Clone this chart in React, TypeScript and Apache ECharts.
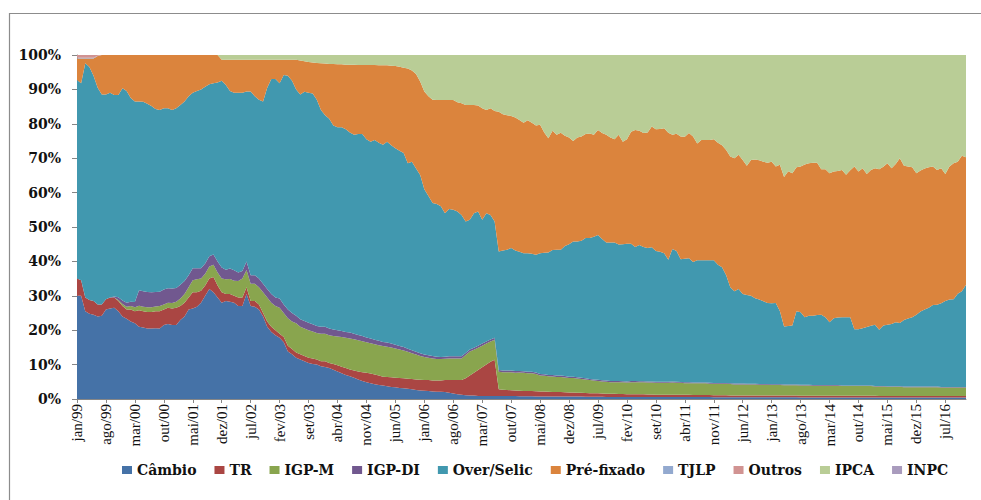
import React, { useEffect, useRef } from "react";
import * as echarts from "echarts";

const MONTHS = ["jan", "fev", "mar", "abr", "mai", "jun", "jul", "ago", "set", "out", "nov", "dez"];
const YEARS = ["99", "00", "01", "02", "03", "04", "05", "06", "07", "08", "09", "10", "11", "12", "13", "14", "15", "16"];

const SERIES_NAMES = ["Câmbio", "TR", "IGP-M", "IGP-DI", "Over/Selic", "Pré-fixado", "TJLP", "Outros", "IPCA", "INPC"];
const COLORS = ["#4572A7", "#AA4643", "#89A54E", "#71588F", "#4198AF", "#DB843D", "#93A9CF", "#D19392", "#B9CD96", "#A99BBD"];

const cambio = [
  30, 30, 25.5, 24.8, 24.5, 24, 24.2, 26, 26.3, 26.5,
  25.5, 24, 23.3, 22.5, 22, 21, 20.8, 20.5, 20.5, 20.6,
  20.5, 21.5, 21.8, 21.5, 21.5, 23, 24, 26, 26.3, 26.8,
  28, 30, 32, 31, 29.5, 28, 28.5, 28.3, 28, 27,
  27, 30.5, 27, 26.8, 26, 24, 21, 19.5, 18.5, 17.8,
  16.5, 13.8, 13, 12, 11.5, 11, 10.5, 10.2, 10, 9.5,
  9.3, 9, 8.5, 8, 7.5, 7, 6.6, 6.2, 5.7, 5.2,
  4.9, 4.6, 4.3, 4.1, 3.9, 3.7, 3.5, 3.4, 3.2, 3.1,
  3, 2.8, 2.6, 2.5, 2.4, 2.3, 2.2, 2.1, 2.1, 2,
  1.8, 1.6, 1.4, 1.2, 1.1, 1, 1, 0.9, 0.9, 0.9,
  0.9, 0.9, 0.9, 0.9, 0.9, 0.85, 0.85, 0.8, 0.8, 0.8,
  0.8, 0.75, 0.75, 0.75, 0.7, 0.7, 0.7, 0.7, 0.7, 0.7,
  0.7, 0.7, 0.7, 0.65, 0.65, 0.65, 0.65, 0.65, 0.6, 0.6,
  0.6, 0.6, 0.6, 0.6, 0.6, 0.6, 0.6, 0.6, 0.6, 0.6,
  0.55, 0.55, 0.55, 0.55, 0.55, 0.55, 0.55, 0.55, 0.55, 0.55,
  0.55, 0.55, 0.55, 0.55, 0.5, 0.5, 0.5, 0.5, 0.5, 0.5,
  0.5, 0.5, 0.5, 0.5, 0.5, 0.5, 0.5, 0.5, 0.5, 0.5,
  0.5, 0.5, 0.5, 0.5, 0.5, 0.45, 0.45, 0.45, 0.45, 0.45,
  0.45, 0.45, 0.45, 0.45, 0.45, 0.45, 0.45, 0.45, 0.45, 0.45,
  0.45, 0.45, 0.45, 0.45, 0.4, 0.4, 0.4, 0.4, 0.4, 0.4,
  0.4, 0.4, 0.4, 0.4, 0.4, 0.4, 0.4, 0.4, 0.4, 0.4,
  0.4, 0.4, 0.4, 0.4, 0.4, 0.4,
];

const tr = [
  5, 4.5, 4, 4, 4, 3.5, 3.3, 3, 3.2, 3,
  3, 3, 2.7, 3.5, 3.5, 4.8, 4.7, 4.8, 4.8, 4.9,
  5, 4.5, 4.7, 4.8, 5, 4, 4, 3.5, 4.7, 4.2,
  3.5, 3, 3, 4.5, 3.5, 3, 2, 2.2, 2, 2.5,
  2.5, 2, 1.5, 1.7, 1.5, 1, 1.5, 1.5, 1.5, 1.2,
  1.5, 1.7, 1.5, 1.5, 1.5, 1.5, 1.5, 1.6, 1.5, 1.5,
  1.7, 1.5, 1.7, 1.8, 1.9, 2, 2, 2.1, 2.3, 2.6,
  2.7, 2.8, 2.8, 2.7, 2.6, 2.7, 2.8, 2.8, 2.9, 2.9,
  2.9, 3, 3.1, 3.1, 3.1, 3.2, 3.2, 3.3, 3.3, 3.5,
  3.7, 3.9, 4.1, 4.3, 4.9, 5.8, 6.6, 7.5, 8.3, 9.1,
  9.9, 10.5, 1.9, 1.8, 1.7, 1.7, 1.6, 1.6, 1.5, 1.5,
  1.5, 1.5, 1.45, 1.4, 1.4, 1.35, 1.3, 1.3, 1.25, 1.2,
  1.2, 1.15, 1.1, 1.1, 1.05, 1, 1, 0.95, 0.95, 0.9,
  0.9, 0.85, 0.85, 0.8, 0.8, 0.8, 0.75, 0.75, 0.7, 0.7,
  0.7, 0.7, 0.7, 0.7, 0.65, 0.65, 0.65, 0.65, 0.65, 0.6,
  0.6, 0.6, 0.6, 0.6, 0.6, 0.6, 0.6, 0.6, 0.55, 0.55,
  0.55, 0.55, 0.55, 0.55, 0.55, 0.55, 0.55, 0.55, 0.5, 0.5,
  0.5, 0.5, 0.5, 0.5, 0.5, 0.5, 0.5, 0.5, 0.5, 0.5,
  0.5, 0.5, 0.5, 0.5, 0.5, 0.5, 0.5, 0.5, 0.5, 0.5,
  0.5, 0.5, 0.5, 0.5, 0.5, 0.5, 0.45, 0.45, 0.45, 0.45,
  0.45, 0.45, 0.45, 0.45, 0.45, 0.45, 0.45, 0.45, 0.45, 0.45,
  0.45, 0.45, 0.45, 0.45, 0.45, 0.45,
];

const igpm = [
  0, 0, 0, 0, 0, 0, 0, 0, 0, 0,
  0.3, 0.6, 0.8, 1, 1.2, 1.3, 1.3, 1.4, 1.4, 1.4,
  1.5, 1.5, 1.5, 1.6, 1.8, 2.2, 2.5, 3, 3.5, 3.8,
  3.5, 3.4, 3.5, 3.5, 3.8, 4, 4.3, 4.4, 4.4, 4.8,
  5.5, 5, 5, 5, 5, 6, 7, 7, 7, 7.5,
  7, 8, 8, 8.5, 8, 8, 8, 7.8, 7.7, 8,
  8, 8, 8.1, 8.4, 8.6, 8.8, 9, 9.1, 9.1, 9,
  8.9, 8.8, 8.8, 8.8, 8.9, 8.8, 8.7, 8.5, 8.3, 8.1,
  7.8, 7.5, 7.2, 6.9, 6.7, 6.5, 6.4, 6.2, 6.2, 6.2,
  6.3, 6.3, 6.3, 6.3, 6.8, 7, 6.7, 6.5, 6.3, 6.1,
  5.9, 5.8, 5.1, 5.1, 5.2, 5.2, 5.2, 5.3, 5.3, 5.2,
  5.2, 5.0, 4.6, 4.6, 4.5, 4.5, 4.4, 4.4, 4.3, 4.2,
  4.2, 4.1, 4.0, 3.9, 3.8, 3.7, 3.6, 3.5, 3.5, 3.4,
  3.4, 3.4, 3.4, 3.4, 3.5, 3.5, 3.5, 3.5, 3.5, 3.5,
  3.5, 3.5, 3.5, 3.5, 3.6, 3.5, 3.5, 3.4, 3.4, 3.4,
  3.4, 3.4, 3.4, 3.3, 3.3, 3.3, 3.3, 3.3, 3.3, 3.2,
  3.2, 3.2, 3.2, 3.2, 3.2, 3.1, 3.1, 3.1, 3.1, 3.1,
  3.1, 3.0, 3.0, 3.0, 3.0, 3.0, 3.0, 3.0, 2.9, 2.9,
  2.9, 2.9, 2.9, 2.9, 2.9, 2.8, 2.8, 2.8, 2.8, 2.8,
  2.8, 2.8, 2.8, 2.7, 2.7, 2.7, 2.7, 2.7, 2.7, 2.7,
  2.6, 2.6, 2.6, 2.6, 2.6, 2.6, 2.6, 2.6, 2.6, 2.5,
  2.5, 2.5, 2.5, 2.5, 2.5, 2.5,
];

const igpdi = [
  0, 0, 0, 0, 0, 0, 0, 0, 0, 0.3,
  0.8, 1, 1.2, 1.3, 1.5, 4.5, 4.5, 4.4, 4.3, 4.2,
  4.2, 4.3, 4.2, 4.2, 4, 4, 3.8, 3.5, 3.5, 3.2,
  3, 3, 3, 3, 3.2, 3.2, 2.8, 3, 3, 2.5,
  2.2, 2.5, 2.5, 2.5, 2.5, 2.5, 2.5, 2.5, 2.5, 2.7,
  2.5, 2.5, 2.5, 2.2, 2.2, 2.2, 2.2, 2.1, 2, 2,
  2, 2, 1.9, 1.8, 1.8, 1.7, 1.7, 1.6, 1.5, 1.5,
  1.4, 1.4, 1.3, 1.3, 1.2, 1.2, 1.1, 1.1, 1, 1,
  0.9, 0.9, 0.8, 0.8, 0.7, 0.7, 0.7, 0.7, 0.6, 0.6,
  0.6, 0.6, 0.6, 0.6, 0.6, 0.6, 0.6, 0.6, 0.6, 0.6,
  0.6, 0.6, 0.5, 0.5, 0.5, 0.5, 0.5, 0.45, 0.45, 0.45,
  0.45, 0.45, 0.45, 0.45, 0.4, 0.4, 0.4, 0.4, 0.4, 0.4,
  0.4, 0.4, 0.35, 0.35, 0.35, 0.35, 0.35, 0.35, 0.35, 0.35,
  0.35, 0.35, 0.3, 0.3, 0.3, 0.3, 0.3, 0.3, 0.3, 0.3,
  0.3, 0.3, 0.3, 0.3, 0.3, 0.3, 0.25, 0.25, 0.25, 0.25,
  0.25, 0.25, 0.25, 0.25, 0.25, 0.25, 0.25, 0.25, 0.25, 0.25,
  0.25, 0.25, 0.2, 0.2, 0.2, 0.2, 0.2, 0.2, 0.2, 0.2,
  0.2, 0.2, 0.2, 0.2, 0.2, 0.2, 0.2, 0.2, 0.2, 0.2,
  0.2, 0.2, 0.2, 0.2, 0.2, 0.2, 0.2, 0.2, 0.2, 0.2,
  0.2, 0.2, 0.15, 0.15, 0.15, 0.15, 0.15, 0.15, 0.15, 0.15,
  0.15, 0.15, 0.15, 0.15, 0.15, 0.15, 0.15, 0.15, 0.15, 0.15,
  0.15, 0.15, 0.15, 0.15, 0.15, 0.15,
];

const selic = [
  57.7, 57.3, 68.1, 67.7, 65.5, 63, 61, 59.5, 59.5, 58.6,
  58.8, 61.7, 61.5, 59.2, 58.3, 54.9, 55.1, 54.7, 54.2, 53.2,
  52.8, 52.7, 52.3, 51.9, 52.2, 52.3, 52.2, 52, 51, 51.5,
  52, 51.4, 50, 49.8, 52, 54.3, 53.7, 51.6, 51.6, 52.2,
  51.8, 49.4, 53.4, 52, 52, 53, 58.5, 62.5, 63.5, 62.6,
  66.7, 68, 67.5, 65.8, 65.3, 66.6, 66.8, 67.1, 65.8, 63,
  61.5, 61, 59.3, 59, 59.2, 58.9, 58.2, 57.8, 58.4, 58.7,
  57.6, 57.2, 58.1, 57.6, 57.3, 58.4, 57.7, 57.1, 56.8, 56.4,
  53.9, 54.8, 53.3, 51.8, 48.1, 46.3, 44.5, 44.4, 43.8, 41.7,
  42.8, 42.6, 42.1, 41.1, 38.2, 37.7, 39.1, 39, 36, 37.3,
  36.2, 33.8, 34.5, 34.9, 35.1, 35.65, 35.05, 34.65, 34.35, 34.45,
  34.25, 34.2, 35.15, 35.3, 35.6, 36.35, 36.6, 36.6, 37.85, 38.5,
  39.3, 39.45, 39.85, 40.8, 40.95, 41.5, 42.1, 41.05, 40.1, 40.25,
  40.25, 39.7, 39.85, 40, 39.9, 39, 39.65, 39.05, 38.8, 39,
  37.95, 37.75, 37.35, 35.45, 38.5, 38, 35.65, 35.95, 36.05, 35,
  35.5, 35.5, 35.5, 35.6, 35.65, 34.35, 33.65, 31.35, 27.9, 26.8,
  27.5, 26, 25.75, 25.55, 24.85, 24.55, 24.05, 23.55, 23.5, 23.6,
  21.2, 16.9, 17, 17.2, 21.3, 21.05, 19.65, 20.05, 20.15, 20.35,
  20.45, 19.75, 18.25, 19.45, 19.65, 19.85, 19.85, 19.85, 16.35, 16.35,
  16.65, 16.95, 17.4, 17.8, 16.35, 17.65, 17.9, 18.1, 18.6, 18.4,
  19.4, 19.8, 20.2, 20.9, 21.8, 22.4, 22.9, 23.7, 23.8, 24.3,
  25, 25.4, 25.5, 27.1, 27.8, 29.7,
];

const prefixado = [
  6.3, 7.2, 1.4, 2.5, 5, 9.2, 11.5, 11.5, 11, 11.6,
  11.6, 9.7, 10.5, 12.5, 13.5, 13.5, 13.6, 14.2, 14.8, 15.7,
  16, 15.5, 15.5, 16, 15.5, 14.5, 13.5, 12, 11, 10.5,
  10, 9.2, 8.5, 8.2, 8, 6.1, 7.3, 9.1, 9.6, 9.6,
  9.6, 9.2, 9.2, 10.6, 11.6, 12.1, 8.1, 5.6, 5.6, 6.8,
  4.4, 4.6, 6.1, 8.6, 9.9, 8.9, 9, 9, 10.7, 13.6,
  15, 15.9, 17.9, 18.3, 18.3, 18.8, 19.7, 20.4, 20.1, 20.1,
  21.6, 22.3, 21.8, 22.5, 23.1, 22.2, 23.1, 23.9, 24.4, 24.8,
  27.6, 26.5, 27.5, 27.2, 28.4, 29, 30, 30.2, 30.9, 32.9,
  31.7, 31.9, 31.8, 32.5, 33.9, 33.4, 31.5, 30.8, 32.4, 30,
  31, 32.1, 40.6, 39.6, 39.1, 38.4, 38.6, 38.3, 37.9, 38.6,
  38.1, 37.6, 37.3, 35, 33.2, 34.7, 33.4, 34, 32, 31,
  29.2, 30.2, 30.3, 30.2, 30.4, 29.6, 30.5, 30.8, 31.3, 30.5,
  30, 31.9, 29.8, 30.4, 32.6, 34, 33.2, 33.1, 33.6, 35.1,
  35.4, 35.7, 36.3, 36.9, 33.2, 34.1, 35.7, 35.4, 36.4, 36.5,
  34, 35, 35, 35, 35.2, 35.5, 35.5, 36.4, 38, 38.7,
  39, 39, 37.6, 39.5, 40.3, 40.5, 40.6, 40.8, 41.2, 39.7,
  42.6, 43.4, 45, 44.2, 41.9, 42.4, 44.4, 44.3, 44.5, 44.3,
  42.3, 43, 43.3, 42.6, 42.6, 42.8, 41.4, 42.7, 47.3, 45.8,
  46.5, 44.5, 45.3, 45.5, 46.7, 46.1, 46.9, 45.3, 46, 47.9,
  44.8, 44.2, 43.6, 41.1, 41, 41, 40.9, 40.3, 39.2, 39.3,
  36.9, 38.7, 39.5, 38.4, 39.4, 37.1,
];

const tjlp = [
  0.2, 0.2, 0.2, 0.2, 0.2, 0.1, 0, 0, 0, 0,
  0, 0, 0, 0, 0, 0, 0, 0, 0, 0,
  0, 0, 0, 0, 0, 0, 0, 0, 0, 0,
  0, 0, 0, 0, 0, 0, 0, 0, 0, 0,
  0, 0, 0, 0, 0, 0, 0, 0, 0, 0,
  0, 0, 0, 0, 0, 0, 0, 0, 0, 0,
  0, 0, 0, 0, 0, 0, 0, 0, 0, 0,
  0, 0, 0, 0, 0, 0, 0, 0, 0, 0,
  0, 0, 0, 0, 0, 0, 0, 0, 0, 0,
  0, 0, 0, 0, 0, 0, 0, 0, 0, 0,
  0, 0, 0, 0, 0, 0, 0, 0, 0, 0,
  0, 0, 0, 0, 0, 0, 0, 0, 0, 0,
  0, 0, 0, 0, 0, 0, 0, 0, 0, 0,
  0, 0, 0, 0, 0, 0, 0, 0, 0, 0,
  0, 0, 0, 0, 0, 0, 0, 0, 0, 0,
  0, 0, 0, 0, 0, 0, 0, 0, 0, 0,
  0, 0, 0, 0, 0, 0, 0, 0, 0, 0,
  0, 0, 0, 0, 0, 0, 0, 0, 0, 0,
  0, 0, 0, 0, 0, 0, 0, 0, 0, 0,
  0, 0, 0, 0, 0, 0, 0, 0, 0, 0,
  0, 0, 0, 0, 0, 0, 0, 0, 0, 0,
  0, 0, 0, 0, 0, 0,
];

const outros = [
  0.8, 0.8, 0.8, 0.8, 0.8, 0.2, 0, 0, 0, 0,
  0, 0, 0, 0, 0, 0, 0, 0, 0, 0,
  0, 0, 0, 0, 0, 0, 0, 0, 0, 0,
  0, 0, 0, 0, 0, 0, 0, 0, 0, 0,
  0, 0, 0, 0, 0, 0, 0, 0, 0, 0,
  0, 0, 0, 0, 0, 0, 0, 0, 0, 0,
  0, 0, 0, 0, 0, 0, 0, 0, 0, 0,
  0, 0, 0, 0, 0, 0, 0, 0, 0, 0,
  0, 0, 0, 0, 0, 0, 0, 0, 0, 0,
  0, 0, 0, 0, 0, 0, 0, 0, 0, 0,
  0, 0, 0, 0, 0, 0, 0, 0, 0, 0,
  0, 0, 0, 0, 0, 0, 0, 0, 0, 0,
  0, 0, 0, 0, 0, 0, 0, 0, 0, 0,
  0, 0, 0, 0, 0, 0, 0, 0, 0, 0,
  0, 0, 0, 0, 0, 0, 0, 0, 0, 0,
  0, 0, 0, 0, 0, 0, 0, 0, 0, 0,
  0, 0, 0, 0, 0, 0, 0, 0, 0, 0,
  0, 0, 0, 0, 0, 0, 0, 0, 0, 0,
  0, 0, 0, 0, 0, 0, 0, 0, 0, 0,
  0, 0, 0, 0, 0, 0, 0, 0, 0, 0,
  0, 0, 0, 0, 0, 0, 0, 0, 0, 0,
  0, 0, 0, 0, 0, 0,
];

const ipca = [
  0, 0, 0, 0, 0, 0, 0, 0, 0, 0,
  0, 0, 0, 0, 0, 0, 0, 0, 0, 0,
  0, 0, 0, 0, 0, 0, 0, 0, 0, 0,
  0, 0, 0, 0, 0, 1.4, 1.4, 1.4, 1.4, 1.4,
  1.4, 1.4, 1.4, 1.4, 1.4, 1.4, 1.4, 1.4, 1.4, 1.4,
  1.4, 1.4, 1.4, 1.4, 1.6, 1.8, 2, 2.2, 2.3, 2.4,
  2.5, 2.6, 2.6, 2.7, 2.7, 2.8, 2.8, 2.8, 2.9, 2.9,
  2.9, 2.9, 2.9, 3, 3, 3, 3.1, 3.2, 3.4, 3.7,
  3.9, 4.5, 5.5, 7.7, 10.6, 12, 13, 13.1, 13.1, 13.1,
  13.1, 13.1, 13.7, 14, 14.5, 14.5, 14.5, 14.7, 15.5, 16,
  15.5, 16.3, 16.5, 17.2, 17.5, 17.7, 18.2, 18.9, 19.7, 19,
  19.7, 20.5, 20.3, 22.5, 24.2, 22, 23.2, 22.6, 23.5, 24,
  25, 24, 23.7, 23, 22.8, 23.2, 21.8, 22.7, 23.2, 24,
  24.5, 23.2, 25.2, 24.5, 22.3, 21.8, 22, 22.7, 22.5, 20.8,
  21.6, 21.5, 21.3, 22.6, 23.2, 22.9, 23.7, 23.8, 22.7, 23.7,
  25.7, 24.7, 24.7, 24.7, 24.5, 25.5, 26.2, 27.6, 29.5, 30,
  29, 30.5, 32.2, 30.5, 30.4, 30.6, 31, 31.3, 31, 32.4,
  31.9, 35.5, 33.8, 34.4, 32.6, 32.4, 31.8, 31.5, 31.3, 31.3,
  33.2, 33.2, 34.4, 33.9, 33.7, 33.4, 34.8, 33.5, 32.4, 33.9,
  32.9, 34.6, 33.4, 32.9, 33.2, 32.5, 31.5, 32.9, 31.7, 30,
  32.2, 32.4, 32.6, 34.4, 33.6, 33, 32.6, 32.4, 33.4, 32.9,
  34.6, 32.4, 31.5, 31, 29.3, 29.7,
];

const inpc = [
  0, 0, 0, 0, 0, 0, 0, 0, 0, 0,
  0, 0, 0, 0, 0, 0, 0, 0, 0, 0,
  0, 0, 0, 0, 0, 0, 0, 0, 0, 0,
  0, 0, 0, 0, 0, 0, 0, 0, 0, 0,
  0, 0, 0, 0, 0, 0, 0, 0, 0, 0,
  0, 0, 0, 0, 0, 0, 0, 0, 0, 0,
  0, 0, 0, 0, 0, 0, 0, 0, 0, 0,
  0, 0, 0, 0, 0, 0, 0, 0, 0, 0,
  0, 0, 0, 0, 0, 0, 0, 0, 0, 0,
  0, 0, 0, 0, 0, 0, 0, 0, 0, 0,
  0, 0, 0, 0, 0, 0, 0, 0, 0, 0,
  0, 0, 0, 0, 0, 0, 0, 0, 0, 0,
  0, 0, 0, 0, 0, 0, 0, 0, 0, 0,
  0, 0, 0, 0, 0, 0, 0, 0, 0, 0,
  0, 0, 0, 0, 0, 0, 0, 0, 0, 0,
  0, 0, 0, 0, 0, 0, 0, 0, 0, 0,
  0, 0, 0, 0, 0, 0, 0, 0, 0, 0,
  0, 0, 0, 0, 0, 0, 0, 0, 0, 0,
  0, 0, 0, 0, 0, 0, 0, 0, 0, 0,
  0, 0, 0, 0, 0, 0, 0, 0, 0, 0,
  0, 0, 0, 0, 0, 0, 0, 0, 0, 0,
  0, 0, 0, 0, 0, 0,
];

const SERIES_DATA = [cambio, tr, igpm, igpdi, selic, prefixado, tjlp, outros, ipca, inpc];

const categories: string[] = [];
YEARS.forEach((y) => MONTHS.forEach((m) => categories.push(m + "/" + y)));

export default function App() {
  const ref = useRef<HTMLDivElement>(null);
  useEffect(() => {
    if (!ref.current) return;
    const chart = echarts.init(ref.current, undefined, { renderer: "svg" });
    chart.setOption({
      animation: false,
      backgroundColor: "#ffffff",
      grid: { left: 77, right: 15, top: 55, bottom: 101, containLabel: false },
      graphic: [
        {
          type: "rect",
          shape: { x: 9.5, y: 13.5, width: 1000, height: 600 },
          style: { fill: "none", stroke: "#8c8c8c", lineWidth: 1.2 },
          silent: true,
        },
      ],
      legend: {
        data: SERIES_NAMES,
        left: 122,
        top: 463,
        itemWidth: 10,
        itemHeight: 8,
        itemGap: 18,
        icon: "rect",
        padding: 0,
        textStyle: {
          fontFamily: "DejaVu Serif",
          fontWeight: "bold",
          fontSize: 14,
          color: "#111",
        },
      },
      xAxis: {
        type: "category",
        data: categories,
        boundaryGap: false,
        axisLine: { lineStyle: { color: "#868686", width: 1 } },
        axisTick: { interval: 6, length: 4, lineStyle: { color: "#868686" } },
        axisLabel: {
          interval: 6,
          rotate: 90,
          margin: 5,
          fontFamily: "Liberation Serif",
          fontSize: 15,
          color: "#111",
        },
        splitLine: { show: false },
      },
      yAxis: {
        type: "value",
        min: 0,
        max: 100,
        interval: 10,
        axisLine: { show: true, lineStyle: { color: "#868686", width: 1 } },
        axisTick: { show: true, length: 5, lineStyle: { color: "#868686" } },
        axisLabel: {
          formatter: "{value}%",
          margin: 16,
          fontFamily: "DejaVu Serif",
          fontWeight: "bold",
          fontSize: 14,
          color: "#111",
        },
        splitLine: { show: false },
      },
      series: SERIES_NAMES.map((name, k) => ({
        name,
        type: "line",
        stack: "total",
        data: SERIES_DATA[k],
        symbol: "none",
        showSymbol: false,
        lineStyle: { width: 0 },
        areaStyle: { color: COLORS[k], opacity: 1 },
        itemStyle: { color: COLORS[k] },
        emphasis: { disabled: true },
      })),
    });
    return () => chart.dispose();
  }, []);
  return (
    <div
      ref={ref}
      style={{ position: "fixed", left: 0, top: 0, width: 981, height: 500, background: "#fff" }}
    />
  );
}
